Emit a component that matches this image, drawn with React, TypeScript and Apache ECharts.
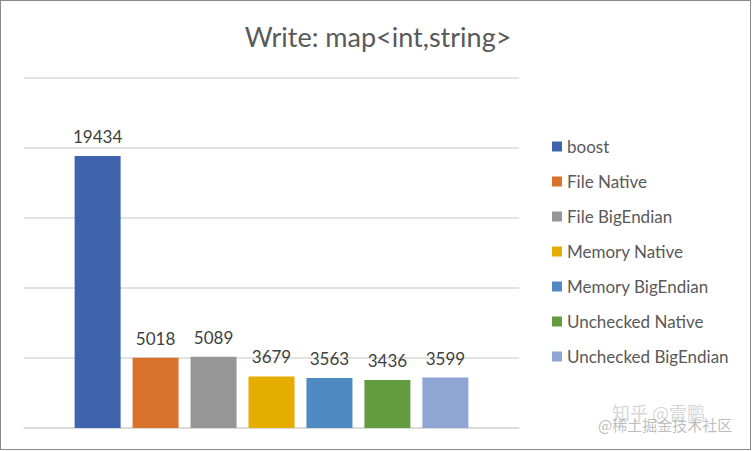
import React, { useEffect, useRef } from "react";
import * as echarts from "echarts";

const seriesNames = [
  "boost",
  "File Native",
  "File BigEndian",
  "Memory Native",
  "Memory BigEndian",
  "Unchecked Native",
  "Unchecked BigEndian",
];
const seriesValues = [19434, 5018, 5089, 3679, 3563, 3436, 3599];
const seriesColors = ["#4063ad", "#d8722d", "#969696", "#e5ad00", "#4f8bc2", "#639c3e", "#8fa6d5"];
const categories = [""];
const titleText = "Write: map<int,string>";

export default function App() {
  const ref = useRef<HTMLDivElement>(null);
  useEffect(() => {
    document.body.style.margin = "0";
    if (!ref.current) return;
    const chart = echarts.init(ref.current, undefined, { renderer: "svg" });
    const font = "Lato, 'Noto Sans', sans-serif";
    chart.setOption({
      animation: false,
      backgroundColor: "#ffffff",
      title: {
        text: titleText,
        left: 373,
        textAlign: "center",
        top: 18,
        textStyle: { fontFamily: font, fontSize: 27, fontWeight: "normal", color: "#595959" },
      },
      legend: {
        orient: "vertical",
        left: 552,
        top: 138,
        padding: 0,
        itemWidth: 10,
        itemHeight: 10,
        itemGap: 18,
        icon: "rect",
        data: seriesNames,
        textStyle: { fontFamily: font, fontSize: 17, color: "#595959" },
      },
      grid: { left: 24, right: 233, top: 78, bottom: 23, containLabel: false },
      xAxis: {
        type: "category",
        data: categories,
        axisLine: { show: true, lineStyle: { color: "#d9d9d9", width: 1.5 } },
        axisTick: { show: false },
        axisLabel: { show: false },
      },
      yAxis: {
        type: "value",
        min: 0,
        max: 25000,
        interval: 5000,
        axisLabel: { show: false },
        axisLine: { show: false },
        axisTick: { show: false },
        splitLine: { lineStyle: { color: "#d9d9d9", width: 1.5 } },
      },
      series: seriesNames.map((name, i) => ({
        name,
        type: "bar",
        data: [seriesValues[i]],
        barWidth: 46,
        barGap: "26%",
        itemStyle: { color: seriesColors[i] },
        label: {
          show: true,
          position: "top",
          distance: 11,
          fontFamily: font,
          fontSize: 17,
          color: "#404040",
        },
      })),
      graphic: [
        {
          type: "text",
          left: 612,
          top: 403,
          style: { text: "知乎 @雷鹏", font: "18px 'Noto Sans CJK SC'", fill: "rgba(180,180,180,0.55)" },
        },
        {
          type: "text",
          left: 598,
          top: 417,
          style: { text: "@稀土掘金技术社区", font: "15px 'Noto Sans CJK SC'", fill: "rgba(160,160,160,0.7)" },
        },
      ],
    });
    return () => chart.dispose();
  }, []);
  return (
    <div style={{ position: "relative", width: 752, height: 451 }}>
      <div ref={ref} style={{ width: 752, height: 451 }} />
      <div
        style={{
          position: "absolute",
          left: 0,
          top: 0,
          width: 751,
          height: 450,
          boxSizing: "border-box",
          border: "1px solid #8a8a8a",
          pointerEvents: "none",
        }}
      />
    </div>
  );
}
